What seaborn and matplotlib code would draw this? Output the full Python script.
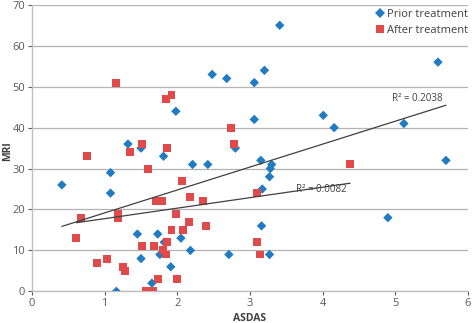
import numpy as np
import pandas as pd
import matplotlib
matplotlib.use("Agg")
import matplotlib.pyplot as plt
import seaborn as sns

# ---- data ----
prior_x = [0.41, 1.08, 1.08, 1.16, 1.32, 1.50, 1.45, 1.50, 1.73, 1.65, 1.76, 1.82, 1.91, 1.81,
           1.98, 2.05, 2.18, 2.21, 2.42, 2.48, 2.68, 2.71, 2.80, 3.06, 3.06, 3.15, 3.16, 3.17,
           3.20, 3.27, 3.27, 3.28, 3.30, 3.41, 4.01, 4.16, 4.90, 5.12, 5.59, 5.70]
prior_y = [26, 29, 24, 0, 36, 35, 14, 8, 14, 2, 9, 12, 6, 33,
           44, 13, 10, 31, 31, 53, 52, 9, 35, 51, 42, 32, 16, 25,
           54, 9, 28, 30, 31, 65, 43, 40, 18, 41, 56, 32]
after_x = [0.61, 0.67, 0.75, 0.90, 1.03, 1.16, 1.18, 1.18, 1.25, 1.28, 1.35, 1.52, 1.52, 1.57,
           1.59, 1.66, 1.68, 1.71, 1.74, 1.79, 1.80, 1.84, 1.84, 1.86, 1.86, 1.92, 1.92, 1.98,
           1.99, 2.06, 2.08, 2.16, 2.18, 2.35, 2.40, 2.74, 2.78, 3.10, 3.10, 3.14, 4.38]
after_y = [13, 18, 33, 7, 8, 51, 19, 18, 6, 5, 34, 36, 11, 0,
           30, 0, 11, 22, 3, 22, 10, 47, 9, 35, 12, 48, 15, 19,
           3, 27, 15, 17, 23, 22, 16, 40, 36, 24, 12, 9, 31]
series_names = ["Prior treatment", "After treatment"]
r2_labels = ["R\u00b2 = 0.2038", "R\u00b2 = 0.0082"]
x_ticks = [0, 1, 2, 3, 4, 5, 6]
y_ticks = [0, 10, 20, 30, 40, 50, 60, 70]

df = pd.DataFrame({
    "ASDAS": prior_x + after_x,
    "MRI": prior_y + after_y,
    "group": [series_names[0]] * len(prior_x) + [series_names[1]] * len(after_x),
})

sns.set_theme(style="white")
plt.rcParams["font.family"] = ["Open Sans", "DejaVu Sans"]

fig = plt.figure(figsize=(4.72, 3.23), dpi=100)
ax = fig.add_axes([0.068, 0.098, 0.923, 0.887])

blue = "#1f7bc2"
red = "#e04a4b"

ax.set_axisbelow(True)
ax.yaxis.grid(True, color="#b3b3b3", linewidth=0.9)
ax.xaxis.grid(False)

sns.scatterplot(data=df, x="ASDAS", y="MRI", hue="group", style="group", size="group",
                palette={series_names[0]: blue, series_names[1]: red},
                markers={series_names[0]: "D", series_names[1]: "s"},
                sizes={series_names[0]: 23, series_names[1]: 33},
                linewidth=0, ax=ax, zorder=3)

sns.regplot(x=prior_x, y=prior_y, scatter=False, ci=None, truncate=True,
            line_kws={"color": "#404040", "linewidth": 0.9, "zorder": 4}, ax=ax)
sns.regplot(x=after_x, y=after_y, scatter=False, ci=None, truncate=True,
            line_kws={"color": "#404040", "linewidth": 0.9, "zorder": 4}, ax=ax)

ax.set_xlim(0, 6)
ax.set_ylim(0, 70)
ax.set_xticks(x_ticks)
ax.set_yticks(y_ticks)
ax.tick_params(axis="both", labelsize=8, colors="#595959", length=3, width=0.8,
               direction="out", pad=2)
ax.tick_params(axis="x", bottom=True)
ax.tick_params(axis="y", left=True)
for s in ["top", "right"]:
    ax.spines[s].set_visible(False)
for s in ["left", "bottom"]:
    ax.spines[s].set_color("#bfbfbf")
    ax.spines[s].set_linewidth(1.0)

ax.set_xlabel("ASDAS", fontsize=7.5, fontweight="bold", color="#404040")
ax.set_ylabel("MRI", fontsize=7.5, fontweight="bold", color="#404040")
ax.xaxis.set_label_coords(0.5, -0.077)
ax.yaxis.set_label_coords(-0.043, 0.49)

ax.text(4.95, 47.2, r2_labels[0], fontsize=7, color="#404040", ha="left", va="center")
ax.text(3.63, 24.8, r2_labels[1], fontsize=7, color="#404040", ha="left", va="center")

leg = ax.legend(loc="upper right", bbox_to_anchor=(1.01, 1.0), frameon=False,
                fontsize=8, handletextpad=0.05, labelspacing=0.45, markerscale=1.0,
                borderaxespad=0.0, handlelength=1.0)
for t in leg.get_texts():
    t.set_color("#404040")

fig.savefig("out.png", dpi=100)
